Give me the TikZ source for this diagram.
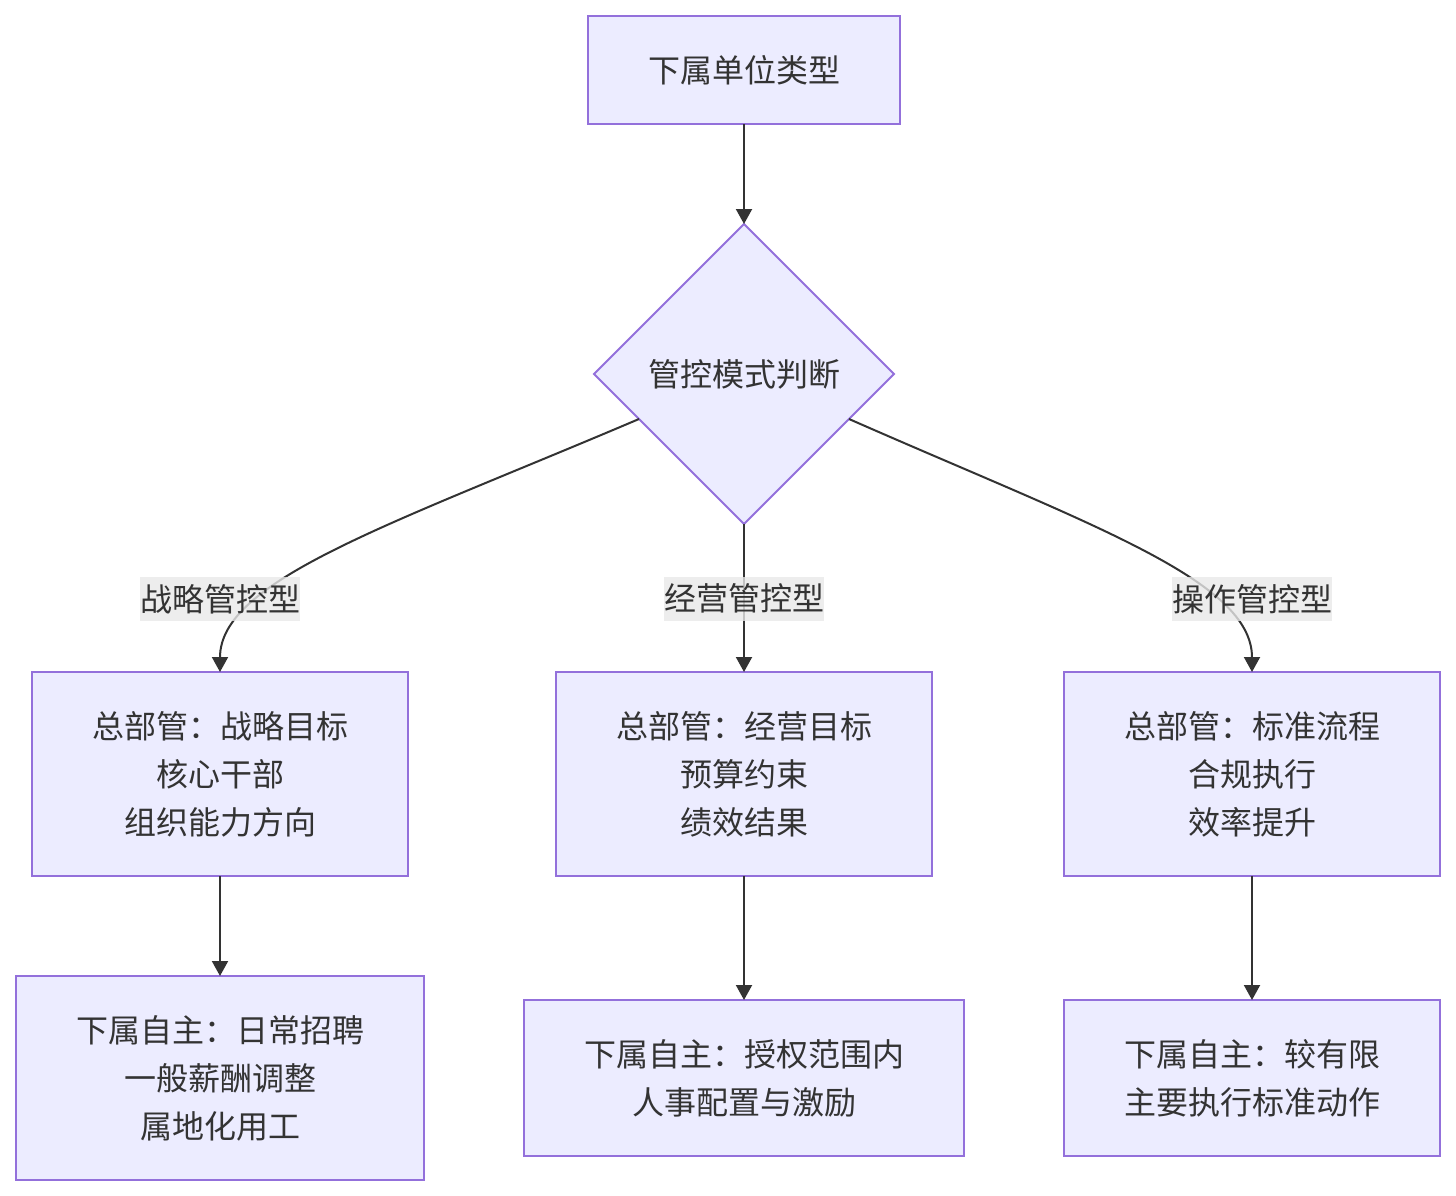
\documentclass[tikz,border=0pt]{standalone}
\usepackage{fontspec}
\setmainfont{Noto Sans CJK SC}
\usepackage{tikz}
\usetikzlibrary{positioning,arrows.meta,shapes.geometric,calc}
\definecolor{nodefill}{RGB}{236,236,255}
\definecolor{nodeline}{RGB}{147,112,219}
\definecolor{edgeline}{RGB}{51,51,51}
\definecolor{labelbg}{RGB}{232,232,232}

\begin{document}
\begin{tikzpicture}[x=1pt, y=1pt,
		box/.style={draw=nodeline, fill=nodefill, line width=2pt, outer sep=0pt,
								inner sep=0pt, align=center, text=edgeline,
								font=\fontsize{32}{48}\selectfont},
		decide/.style={box, diamond, aspect=1, minimum width=300pt, minimum height=300pt},
		edgelabel/.style={fill=labelbg, fill opacity=0.8, text opacity=1, text=edgeline,
								inner sep=0pt, minimum width=160pt, minimum height=44pt,
								font=\fontsize{32}{48}\selectfont},
		arrow/.style={-{Triangle[length=15pt,width=16pt]}, line width=2pt, draw=edgeline},
	]
		\useasboundingbox (0,0) rectangle (1456,-1196);

		% 上部: 类型与判断
		\node[box, minimum width=312pt, minimum height=108pt] (type) at (744,-70) {下属单位类型};
		\node[decide, below=100pt of type] (mode) {管控模式判断};

		% 总部管控内容
		\node[box, minimum width=376pt, minimum height=204pt, below=148pt of mode] (opctl)
			{总部管：经营目标\\预算约束\\绩效结果};
		\node[box, minimum width=376pt, minimum height=204pt, left=148pt of opctl] (stctl)
			{总部管：战略目标\\核心干部\\组织能力方向};
		\node[box, minimum width=376pt, minimum height=204pt, right=132pt of opctl] (prctl)
			{总部管：标准流程\\合规执行\\效率提升};

		% 下属自主空间
		\node[box, minimum width=408pt, minimum height=204pt, below=100pt of stctl] (stfree)
			{下属自主：日常招聘\\一般薪酬调整\\属地化用工};
		\node[box, minimum width=440pt, minimum height=156pt, below=124pt of opctl] (opfree)
			{下属自主：授权范围内\\人事配置与激励};
		\node[box, minimum width=376pt, minimum height=156pt, below=124pt of prctl] (prfree)
			{下属自主：较有限\\主要执行标准动作};

		% 连线
		\coordinate (outl) at ($(mode.west)!0.3!(mode.south)$);
		\coordinate (outr) at ($(mode.east)!0.3!(mode.south)$);
		\draw[arrow] (type) -- (mode);
		\draw[arrow] (outl) .. controls (390,-525) and (220,-580) .. (stctl.north);
		\draw[arrow] (mode) -- (opctl);
		\draw[arrow] (outr) .. controls (1090,-525) and (1252,-580) .. (prctl.north);
		\draw[arrow] (stctl) -- (stfree);
		\draw[arrow] (opctl) -- (opfree);
		\draw[arrow] (prctl) -- (prfree);

		% 分支标签
		\node[edgelabel, above=51pt of stctl] (stlabel) {战略管控型};
		\node[edgelabel, above=51pt of opctl] (oplabel) {经营管控型};
		\node[edgelabel, above=51pt of prctl] (prlabel) {操作管控型};
	\end{tikzpicture}
\end{document}
